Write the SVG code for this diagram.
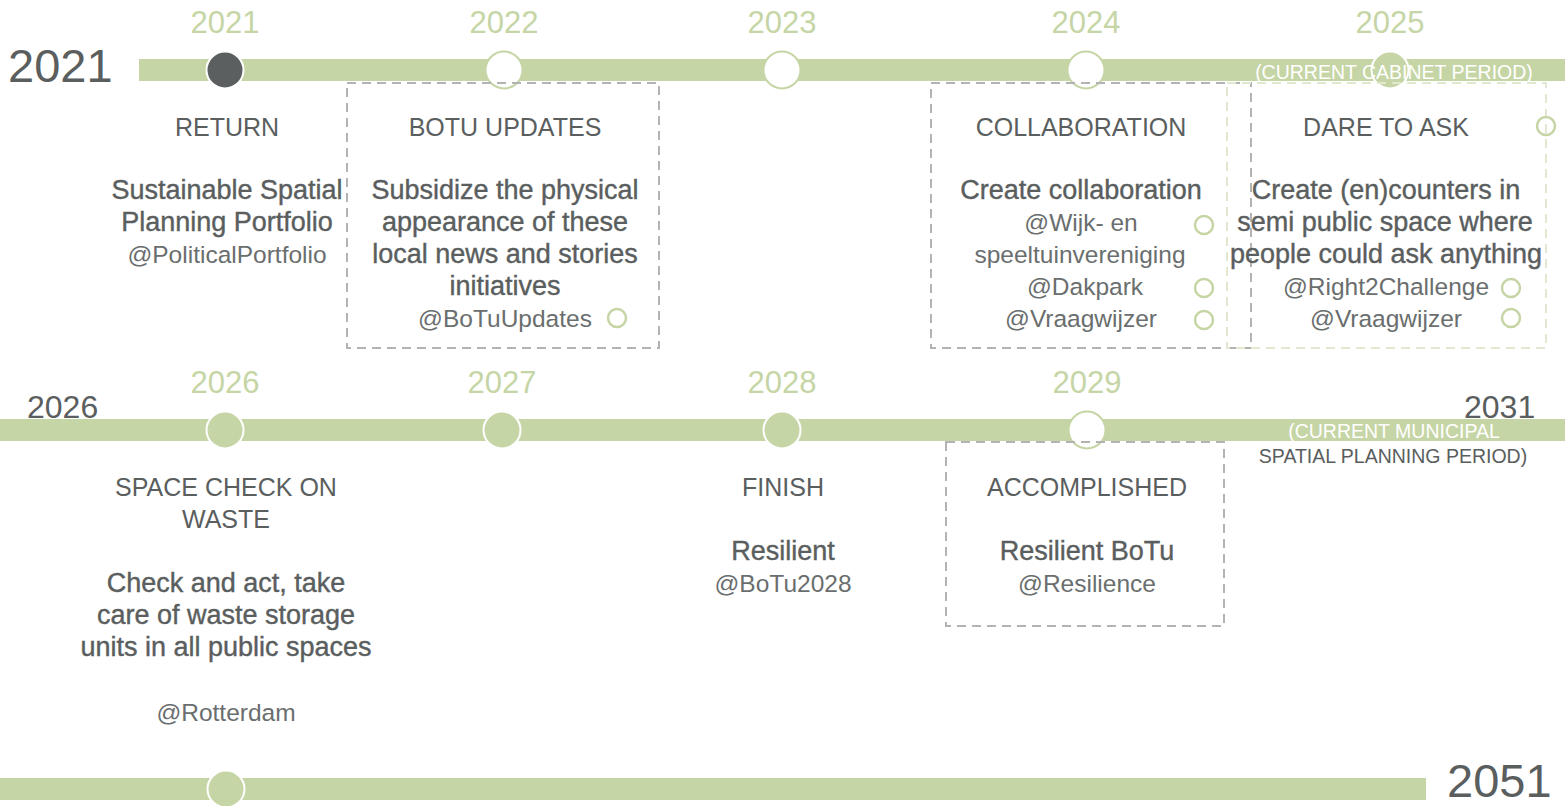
<svg xmlns="http://www.w3.org/2000/svg" width="1565" height="806" viewBox="0 0 1565 806">
<style>
.bar{fill:#c6d5a5}
.yr{font-family:"Liberation Sans",Arial,sans-serif;font-size:31px;fill:#c6d5a5;text-anchor:middle}
.big{font-family:"Liberation Sans",Arial,sans-serif;font-size:47px;fill:#5a5e5e}
.mid{font-family:"Liberation Sans",Arial,sans-serif;font-size:32px;fill:#5a5e5e}
.hd{font-family:"Liberation Sans",Arial,sans-serif;font-size:25px;fill:#5a5e5e;text-anchor:middle}
.bd{font-family:"Liberation Sans",Arial,sans-serif;font-size:27px;fill:#5a5e5e;stroke:#5a5e5e;stroke-width:0.4;text-anchor:middle}
.at{font-family:"Liberation Sans",Arial,sans-serif;font-size:24.5px;fill:#6a6e6e;text-anchor:middle}
.per{font-family:"Liberation Sans",Arial,sans-serif;font-size:19.5px;text-anchor:middle}
.cw{fill:#ffffff;stroke:#c6d5a5;stroke-width:2}
.cg{fill:#c6d5a5;stroke:#ffffff;stroke-width:2}
.cd{fill:#5b5f5f;stroke:#ffffff;stroke-width:2}
.dot{fill:none;stroke:#c6d5a5;stroke-width:2.5}
.box{fill:none;stroke:#b3b3b3;stroke-width:2;stroke-dasharray:9 6}
.boxg{fill:none;stroke:#e0e8cf;stroke-width:2;stroke-dasharray:9 6}
</style>

<g id="timeline-2021-2025">
  <rect class="bar" x="139" y="59" width="1426" height="22"/>
  <text class="big" x="8" y="82">2021</text>
  <text class="yr" x="225" y="33">2021</text>
  <text class="yr" x="504" y="33">2022</text>
  <text class="yr" x="782" y="33">2023</text>
  <text class="yr" x="1086" y="33">2024</text>
  <text class="yr" x="1390" y="33">2025</text>
  <circle class="cd" cx="225" cy="70" r="18.5"/>
  <circle class="cw" cx="504" cy="70" r="18.5"/>
  <circle class="cw" cx="782" cy="70" r="18.5"/>
  <circle class="cw" cx="1086" cy="70" r="18.5"/>
  <circle class="cg" cx="1390" cy="70" r="18.5"/>
  <text class="per" x="1394" y="79" fill="#ffffff">(CURRENT CABINET PERIOD)</text>
</g>

<g id="timeline-2026-2031">
  <rect class="bar" x="0" y="419" width="1565" height="22"/>
  <text class="mid" x="27" y="418">2026</text>
  <text class="mid" x="1464" y="418">2031</text>
  <text class="yr" x="225" y="393">2026</text>
  <text class="yr" x="502" y="393">2027</text>
  <text class="yr" x="782" y="393">2028</text>
  <text class="yr" x="1087" y="393">2029</text>
  <circle class="cg" cx="225" cy="430" r="18.5"/>
  <circle class="cg" cx="502" cy="430" r="18.5"/>
  <circle class="cg" cx="782" cy="430" r="18.5"/>
  <circle class="cw" cx="1087" cy="430" r="18.5"/>
  <text class="per" x="1394" y="438" fill="#ffffff">(CURRENT MUNICIPAL</text>
  <text class="per" x="1393" y="463" fill="#5a5e5e">SPATIAL PLANNING PERIOD)</text>
</g>

<g id="timeline-2051">
  <rect class="bar" x="0" y="778" width="1426" height="22"/>
  <circle class="cg" cx="226" cy="789" r="18.5"/>
  <text class="big" x="1447" y="797">2051</text>
</g>

<g id="connectors"></g>

<g id="return">
  <text class="hd" x="227" y="136">RETURN</text>
  <text class="bd" x="227" y="199">Sustainable Spatial</text>
  <text class="bd" x="227" y="231">Planning Portfolio</text>
  <text class="at" x="227" y="263">@PoliticalPortfolio</text>
</g>

<g id="botu-updates">
  <rect class="box" x="347" y="83" width="312" height="265"/>
  <text class="hd" x="505" y="136">BOTU UPDATES</text>
  <text class="bd" x="505" y="199">Subsidize the physical</text>
  <text class="bd" x="505" y="231">appearance of these</text>
  <text class="bd" x="505" y="263">local news and stories</text>
  <text class="bd" x="505" y="295">initiatives</text>
  <text class="at" x="505" y="327">@BoTuUpdates</text>
  <circle class="dot" cx="617" cy="318" r="9"/>
</g>

<g id="collaboration">
  <rect class="box" x="931" y="83" width="320" height="265"/>
  <text class="hd" x="1081" y="136">COLLABORATION</text>
  <text class="bd" x="1081" y="199">Create collaboration</text>
  <text class="at" x="1081" y="231">@Wijk- en</text>
  <text class="at" x="1080" y="263">speeltuinvereniging</text>
  <text class="at" x="1085" y="295">@Dakpark</text>
  <text class="at" x="1081" y="327">@Vraagwijzer</text>
  <circle class="dot" cx="1204" cy="225" r="9"/>
  <circle class="dot" cx="1204" cy="288" r="9"/>
  <circle class="dot" cx="1204" cy="320" r="9"/>
</g>

<g id="dare-to-ask">
  <rect class="boxg" x="1227" y="83" width="319" height="265"/>
  <text class="hd" x="1386" y="136">DARE TO ASK</text>
  <text class="bd" x="1386" y="199">Create (en)counters in</text>
  <text class="bd" x="1385" y="231">semi public space where</text>
  <text class="bd" x="1386" y="263">people could ask anything</text>
  <text class="at" x="1386" y="295">@Right2Challenge</text>
  <text class="at" x="1386" y="327">@Vraagwijzer</text>
  <circle class="dot" cx="1546" cy="126" r="9"/>
  <circle class="dot" cx="1511" cy="288" r="9"/>
  <circle class="dot" cx="1511" cy="318" r="9"/>
</g>

<g id="space-check">
  <text class="hd" x="226" y="496">SPACE CHECK ON</text>
  <text class="hd" x="226" y="528">WASTE</text>
  <text class="bd" x="226" y="592">Check and act, take</text>
  <text class="bd" x="226" y="624">care of waste storage</text>
  <text class="bd" x="226" y="656">units in all public spaces</text>
  <text class="at" x="226" y="721">@Rotterdam</text>
</g>

<g id="finish">
  <text class="hd" x="783" y="496">FINISH</text>
  <text class="bd" x="783" y="560">Resilient</text>
  <text class="at" x="783" y="592">@BoTu2028</text>
</g>

<g id="accomplished">
  <rect class="box" x="946" y="442" width="278" height="184"/>
  <text class="hd" x="1087" y="496">ACCOMPLISHED</text>
  <text class="bd" x="1087" y="560">Resilient BoTu</text>
  <text class="at" x="1087" y="592">@Resilience</text>
</g>
</svg>
